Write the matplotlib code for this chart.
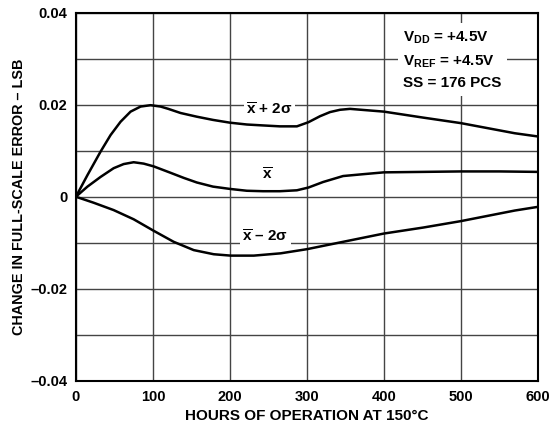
import matplotlib.pyplot as plt

plt.rcParams['font.family'] = ['Liberation Sans', 'DejaVu Sans']
plt.rcParams['font.weight'] = 'bold'
plt.rcParams['mathtext.fontset'] = 'custom'
plt.rcParams['mathtext.rm'] = 'Liberation Sans:bold'
plt.rcParams['mathtext.it'] = 'Liberation Sans:bold'
plt.rcParams['mathtext.bf'] = 'Liberation Sans:bold'

# x-bar + 2 sigma
upper_h = [0, 15, 32, 45, 58, 71, 84, 97, 110, 120, 136, 157, 178, 200, 222, 243, 265, 287, 302, 317, 330,
           343, 356, 378, 400, 451, 500, 570, 600]
upper_v = [0, 0.0047, 0.0098, 0.0134, 0.0163, 0.0185, 0.0196, 0.0199, 0.0196, 0.0191, 0.0182, 0.0174, 0.0167,
           0.0161, 0.0157, 0.0155, 0.0153, 0.0153, 0.0162, 0.0175, 0.0184, 0.0189, 0.0191, 0.0188, 0.0185,
           0.0172, 0.016, 0.0138, 0.0131]

# x-bar
mean_h = [0, 15, 32, 49, 62, 75, 88, 101, 123, 140, 157, 178, 200, 222, 243, 265, 287, 302, 321, 347, 373,
          400, 450, 500, 550, 600]
mean_v = [0, 0.0022, 0.0043, 0.0062, 0.0071, 0.0075, 0.0072, 0.0066, 0.0052, 0.0041, 0.0031, 0.0022, 0.0017,
          0.0013, 0.0012, 0.0012, 0.0014, 0.002, 0.0032, 0.0045, 0.0049, 0.0053, 0.0054, 0.0055, 0.0055, 0.0054]

# x-bar - 2 sigma
lower_h = [0, 23, 49, 75, 101, 127, 153, 179, 201, 231, 266, 300, 347, 400, 451, 500, 570, 600]
lower_v = [0, -0.0013, -0.0029, -0.0049, -0.0074, -0.0098, -0.0116, -0.0125, -0.0128, -0.0128, -0.0123,
           -0.0114, -0.0098, -0.008, -0.0067, -0.0053, -0.003, -0.0022]

x_ticks = [0, 100, 200, 300, 400, 500, 600]
x_labels = ['0', '100', '200', '300', '400', '500', '600']
y_ticks = [-0.04, -0.02, 0, 0.02, 0.04]
y_labels = ['\u20130.04', '\u20130.02', '0', '0.02', '0.04']
y_grid = [-0.03, -0.01, 0.01, 0.03]

fig = plt.figure(figsize=(5.5, 4.24), dpi=100)
ax = fig.add_axes([0.138, 0.102, 0.84, 0.868])

for h, v in [(upper_h, upper_v), (mean_h, mean_v), (lower_h, lower_v)]:
    ax.plot(h, v, color='black', lw=1.8, solid_joinstyle='round', solid_capstyle='round', zorder=3)

ax.set_xlim(0, 600)
ax.set_ylim(-0.04, 0.04)
ax.set_xticks(x_ticks)
ax.set_xticklabels(x_labels)
ax.set_yticks(y_ticks)
ax.set_yticklabels(y_labels)
ax.set_yticks(y_grid, minor=True)
ax.tick_params(which='both', length=0, labelsize=10.5)
ax.tick_params(axis='y', pad=6)
ax.tick_params(axis='x', pad=7)
ax.grid(True, which='both', color='#444444', lw=1.0, zorder=1)
ax.set_axisbelow(True)
for s in ax.spines.values():
    s.set_linewidth(1.5)
    s.set_color('black')

ax.set_xlabel('HOURS OF OPERATION AT 150\u00b0C', fontsize=11, fontweight='bold', labelpad=3)
ax.set_ylabel('CHANGE IN FULL-SCALE ERROR \u2013 LSB', fontsize=10.4, fontweight='bold', labelpad=3)

# curve labels
box = dict(facecolor='white', edgecolor='none', pad=1.5)
ax.text(251, 0.0190, '$\\overline{\\mathbf{x}}$ + 2\u03c3', fontsize=11, ha='center', va='center', bbox=box, zorder=2)
ax.text(249, 0.0047, '$\\overline{\\mathbf{x}}$', fontsize=11, ha='center', va='center', bbox=box, zorder=2)
ax.text(246, -0.0088, '$\\overline{\\mathbf{x}}$ \u2013 2\u03c3', fontsize=11, ha='center', va='center', bbox=box, zorder=2)

# test conditions
ax.text(425, 0.0297, '$\\mathrm{V_{DD}}$ = +4.5V\n$\\mathrm{V_{REF}}$ = +4.5V\nSS = 176 PCS',
        fontsize=11, ha='left', va='center', linespacing=1.6,
        bbox=dict(facecolor='white', edgecolor='none', pad=4), zorder=2)

fig.savefig('out.png', dpi=100)
